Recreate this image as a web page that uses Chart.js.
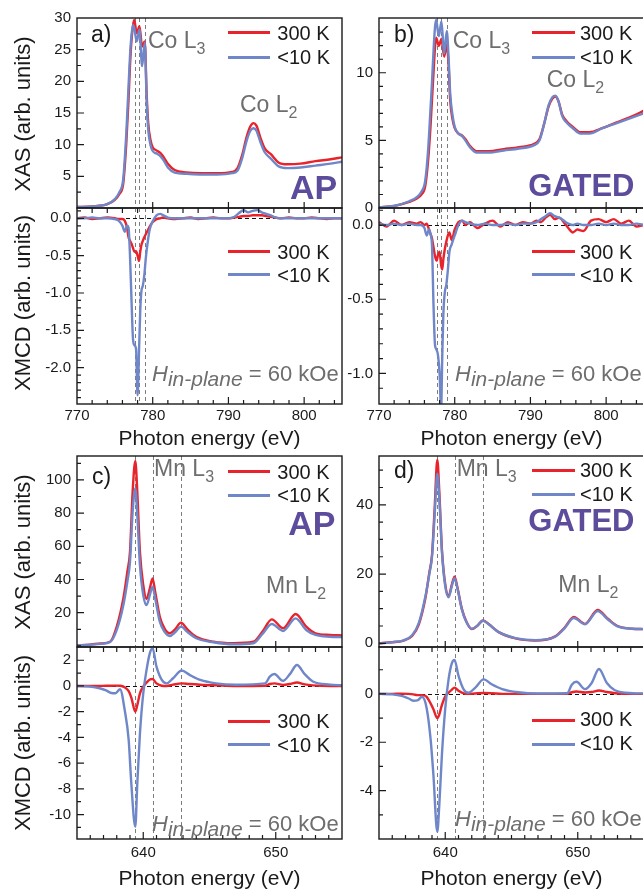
<!DOCTYPE html>
<html>
<head>
<meta charset="utf-8">
<title>Co / Mn XAS and XMCD</title>
<script src="https://cdn.jsdelivr.net/npm/chart.js@4.4.1/dist/chart.umd.min.js"></script>
<style>
  html, body { margin: 0; padding: 0; background: #fff; }
  body { position: relative; width: 643px; height: 891px; overflow: hidden;
         font-family: "Liberation Sans", Arial, sans-serif; color: #1a1a1a; }
  canvas { position: absolute; }
  .t { position: absolute; white-space: nowrap; line-height: 1; }
  .gray { color: #6e6e6e; }
  .tag { color: #5d4b9c; font-weight: bold; }
  .leg { position: absolute; height: 3px; }
  .rot { position: absolute; width: 300px; text-align: center; line-height: 1; transform: rotate(-90deg); white-space: nowrap; }
  .ctr { position: absolute; width: 300px; text-align: center; line-height: 1; white-space: nowrap; }
</style>
</head>
<body>
<script>
// ---- data ----
const seriesNames = ['300 K', '<10 K'];

const coXasEnergy = [770, 772, 774, 775, 775.6, 776.1, 776.5, 776.8, 777.0, 777.2, 777.4, 777.55, 777.9, 778.25, 778.6, 778.95, 779.2, 779.4, 779.7, 780.0, 780.5, 781.0, 781.4, 782.0, 782.9, 784.5, 786.5, 788.5, 790.5, 791.2, 791.8, 792.4, 792.9, 793.3, 793.7, 794.2, 794.8, 795.6, 796.6, 797.8, 799.5, 801.5, 803.5, 805];
const apCoXas300K = [0.15, 0.25, 0.6, 1.3, 2.2, 3.8, 10, 17, 22.5, 26.5, 28.8, 29.7, 27.6, 28.7, 25.5, 26.3, 18, 13.5, 10.8, 9.6, 9.1, 8.7, 8.1, 7.0, 6.0, 5.6, 5.5, 5.5, 5.7, 6.3, 8.3, 11.2, 12.9, 13.4, 13.0, 11.2, 9.4, 8.5, 7.2, 6.9, 7.0, 7.4, 7.7, 8.0];
const apCoXas10K = [0.15, 0.25, 0.6, 1.4, 2.5, 4.5, 11.5, 19, 24, 27.3, 28.9, 28.4, 26.3, 28.2, 22.4, 26.1, 17, 12.5, 10.0, 9.0, 8.6, 8.2, 7.6, 6.4, 5.6, 5.4, 5.3, 5.3, 5.5, 5.9, 7.8, 10.6, 12.2, 12.6, 12.2, 10.5, 8.8, 7.8, 6.6, 6.3, 6.4, 6.7, 7.0, 7.3];
const gatedCoXas300K = [0.05, 0.15, 0.45, 0.7, 1.0, 1.6, 3.6, 6.0, 8.0, 10.0, 11.9, 12.6, 12.0, 12.5, 11.2, 12.1, 10.5, 8.0, 6.6, 5.9, 5.5, 5.35, 5.1, 4.6, 4.2, 4.2, 4.35, 4.5, 4.75, 5.1, 6.2, 7.5, 8.1, 8.25, 7.9, 6.9, 6.4, 6.0, 5.6, 5.6, 5.9, 6.35, 6.8, 7.2];
const gatedCoXas10K = [0.05, 0.15, 0.5, 0.8, 1.2, 2.0, 4.4, 7.3, 9.3, 11.6, 13.4, 13.9, 12.7, 13.8, 11.4, 13.1, 11.0, 8.5, 6.9, 6.0, 5.5, 5.3, 5.0, 4.5, 4.1, 4.1, 4.25, 4.4, 4.65, 5.0, 6.2, 7.6, 8.2, 8.3, 7.9, 6.8, 6.3, 5.9, 5.5, 5.5, 5.9, 6.3, 6.7, 7.0];

const coXmcdEnergy = [770, 771, 772, 773, 774, 775, 775.5, 776.0, 776.3, 776.6, 776.8, 777.0, 777.2, 777.4, 777.6, 777.8, 778.0, 778.2, 778.35, 778.5, 778.7, 778.9, 779.1, 779.3, 779.6, 780.0, 780.5, 781.0, 781.4, 782.0, 783, 784, 785, 786, 787, 788, 789, 790, 790.8, 791.4, 792.0, 792.6, 793.2, 793.8, 794.4, 795.0, 795.6, 796.2, 797, 798, 799, 800, 801, 802, 803, 804, 805];
const apCoXmcd300K = [0.0, 0.01, -0.01, 0.0, 0.01, 0.0, -0.01, -0.01, -0.03, -0.12, -0.25, -0.3, -0.34, -0.4, -0.45, -0.44, -0.5, -0.57, -0.45, -0.36, -0.3, -0.25, -0.21, -0.17, -0.11, -0.05, -0.01, 0.0, 0.01, 0.0, -0.01, 0.0, 0.01, -0.01, 0.0, 0.01, 0.0, 0.0, 0.01, 0.02, 0.03, 0.03, 0.04, 0.04, 0.04, 0.03, 0.02, 0.01, 0.0, 0.01, 0.0, 0.0, 0.01, 0.0, -0.01, 0.0, 0.0];
const apCoXmcd10K = [0.0, 0.0, 0.01, 0.0, 0.0, -0.01, -0.03, -0.1, -0.18, -0.1, -0.12, -0.5, -1.1, -1.62, -1.7, -1.75, -2.37, -1.75, -1.25, -0.98, -0.9, -0.75, -0.52, -0.35, -0.15, -0.04, 0.04, 0.06, 0.04, 0.01, 0.0, 0.0, 0.0, 0.0, 0.0, 0.0, 0.0, 0.0, 0.02, 0.07, 0.11, 0.08, 0.1, 0.11, 0.08, 0.06, 0.04, 0.01, 0.0, 0.0, 0.0, 0.0, 0.0, 0.0, 0.0, 0.0, 0.0];
const gatedCoXmcd300K = [0.02, -0.01, 0.03, 0.0, 0.02, 0.01, 0.02, 0.0, 0.01, -0.03, -0.06, -0.09, -0.15, -0.21, -0.24, -0.2, -0.18, -0.27, -0.3, -0.23, -0.16, -0.11, -0.07, -0.05, -0.1, -0.03, 0.02, 0.03, 0.0, 0.02, -0.02, 0.01, 0.03, -0.01, 0.02, 0.0, 0.02, 0.01, 0.03, 0.02, 0.05, 0.07, 0.04, 0.05, 0.02, -0.02, -0.05, -0.03, -0.04, 0.03, 0.04, 0.02, 0.04, 0.01, 0.03, -0.01, 0.0];
const gatedCoXmcd10K = [0.01, 0.0, 0.01, 0.0, 0.01, 0.0, 0.0, -0.02, -0.07, -0.03, -0.06, -0.14, -0.54, -0.81, -0.84, -0.88, -1.0, -1.25, -0.9, -0.6, -0.45, -0.4, -0.3, -0.18, -0.13, -0.07, 0.0, 0.03, 0.02, 0.01, 0.0, 0.01, 0.0, 0.0, 0.01, 0.0, 0.01, 0.01, 0.02, 0.04, 0.06, 0.08, 0.06, 0.05, 0.03, 0.01, 0.0, 0.01, 0.0, 0.0, 0.01, 0.0, 0.01, 0.0, 0.0, 0.01, 0.0];

const mnXasEnergy = [635, 636, 636.8, 637.5, 638.0, 638.5, 638.8, 639.0, 639.2, 639.4, 639.55, 639.75, 640.0, 640.25, 640.5, 640.7, 640.9, 641.25, 641.6, 642.0, 642.4, 642.85, 643.3, 644.0, 645.3, 646.8, 648.3, 649.0, 649.7, 650.55, 651.5, 652.3, 653.0, 654.1, 655];
const apMnXas300K = [0.3, 0.8, 1.5, 2.5, 11.6, 28.7, 44.7, 56.7, 92.9, 111.4, 92.9, 56.7, 36.7, 28.3, 34.7, 40.7, 32.7, 17.6, 10.6, 7.6, 10, 14, 10.2, 5.5, 2.5, 1.6, 2.5, 8.6, 16, 10.6, 19.2, 11.6, 7.6, 6.6, 6.3];
const apMnXas10K = [0.3, 0.7, 1.2, 2.3, 9.6, 24.6, 38.7, 50.7, 80.8, 94.9, 78.9, 48.7, 30.7, 24.6, 30.7, 35.7, 28.7, 14.6, 8.6, 6.0, 8.2, 11.6, 8.6, 4.6, 2.2, 1.0, 1.6, 7.2, 13.2, 9.0, 16.6, 9.6, 6.6, 5.5, 5.3];
const gatedMnXas300K = [0.0, 0.3, 0.7, 2.1, 5.4, 13, 20.5, 25.5, 39, 53, 44, 27, 17, 13.6, 17, 19.2, 16.5, 10, 6.2, 4.1, 5.0, 6.6, 5.5, 3.3, 1.4, 0.8, 2.0, 4.5, 7.6, 5.6, 9.6, 7.0, 5.0, 4.2, 4.1];
const gatedMnXas10K = [0.0, 0.35, 0.8, 2.3, 5.8, 13.5, 20, 25, 37, 49, 42, 26.5, 16.5, 13.3, 16.6, 18.8, 16.2, 9.8, 6.1, 4.2, 5.0, 6.5, 5.4, 3.3, 1.5, 0.9, 1.9, 4.3, 7.3, 5.5, 9.3, 6.8, 4.9, 4.2, 4.1];

const mnXmcdEnergy = [635, 636, 636.7, 637.2, 637.6, 637.9, 638.25, 638.6, 638.9, 639.1, 639.4, 639.55, 639.75, 640.0, 640.25, 640.5, 640.7, 641.0, 641.4, 641.75, 642.25, 642.9, 643.5, 644.3, 645.5, 647.0, 649.2, 649.55, 649.9, 650.55, 651.05, 651.6, 652.2, 652.8, 654.1, 655];
const apMnXmcd300K = [0, 0, 0, 0.02, 0.02, 0.03, 0.02, -0.1, -0.4, -0.9, -2.0, -1.5, -0.57, -0.05, 0.26, 0.5, 0.54, 0.2, 0.02, 0.0, 0.1, 0.2, 0.15, 0.1, 0.05, 0.0, 0.02, 0.15, 0.2, 0.08, 0.15, 0.27, 0.12, 0.05, 0.0, 0.0];
const apMnXmcd10K = [0, -0.05, -0.18, -0.35, -0.55, -0.57, -0.26, -1.87, -4.2, -7.6, -10.95, -7.6, -3.7, -0.57, 1.25, 2.55, 2.95, 1.5, 0.47, 0.2, 0.6, 1.2, 0.86, 0.47, 0.2, 0.1, 0.2, 0.73, 0.93, 0.4, 0.9, 1.63, 0.9, 0.35, 0.1, 0.05];
const gatedMnXmcd300K = [0, 0, 0.01, 0, -0.02, -0.05, -0.05, -0.12, -0.4, -0.62, -1.0, -0.85, -0.45, -0.1, 0.05, 0.18, 0.26, 0.13, 0.02, 0.0, 0.02, 0.04, 0.03, 0, 0, 0, 0, 0.07, 0.1, 0.06, 0.08, 0.14, 0.08, 0.03, 0, 0];
const gatedMnXmcd10K = [0, -0.02, -0.08, -0.18, -0.28, -0.27, -0.12, -0.6, -1.9, -3.3, -5.7, -4.6, -2.5, -0.6, 0.6, 1.27, 1.4, 0.75, 0.18, 0.05, 0.25, 0.6, 0.4, 0.2, 0.07, 0.02, 0.03, 0.38, 0.5, 0.2, 0.45, 1.03, 0.45, 0.15, 0.03, 0.02];

// tick labels
const coEnergyTicks = [770, 780, 790, 800];
const mnEnergyTicks = [640, 650];
const apCoXasTicks = [5, 10, 15, 20, 25, 30];
const gatedCoXasTicks = [0, 5, 10];
const apCoXmcdTicks = [0, -0.5, -1, -1.5, -2];
const gatedCoXmcdTicks = [0, -0.5, -1];
const apMnXasTicks = [20, 40, 60, 80, 100];
const gatedMnXasTicks = [0, 20, 40];
const apMnXmcdTicks = [2, 0, -2, -4, -6, -8, -10];
const gatedMnXmcdTicks = [0, -2, -4];

// dashed reference energies
const coEdgeMarks = [777.65, 778.2, 779.0];
const mnEdgeMarks = [639.4, 640.7, 642.85];

// ---- drawing ----
const RED = '#e8232b';
const BLUE = '#6f87c9';
const INK = '#1a1a1a';
const tickFont = { family: '"Liberation Sans", Arial, sans-serif', size: 15 };

const pts = (xs, ys) => xs.map((x, i) => ({ x: x, y: ys[i] }));

function steps(min, max, step) {
  const out = [];
  for (let k = Math.ceil(min / step - 1e-9); k * step <= max + 1e-9; k++) out.push(k * step);
  return out;
}
const isMajor = (v, majors, step) => majors.some(m => Math.abs(m - v) < step / 10);

function deco(o) {
  return {
    id: 'deco',
    beforeDatasetsDraw(chart) {
      const { ctx, chartArea: a, scales: { x, y } } = chart;
      ctx.save();
      ctx.lineWidth = 1;
      ctx.setLineDash([4, 3]);
      ctx.strokeStyle = '#7d7d7d';
      o.marks.forEach(e => {
        const px = Math.round(x.getPixelForValue(e)) + 0.5;
        ctx.beginPath(); ctx.moveTo(px, a.top); ctx.lineTo(px, a.bottom); ctx.stroke();
      });
      if (o.mcd) {
        ctx.strokeStyle = '#111';
        const py = Math.round(y.getPixelForValue(0)) + 0.5;
        ctx.beginPath(); ctx.moveTo(a.left, py); ctx.lineTo(a.right, py); ctx.stroke();
      }
      ctx.restore();
    },
    afterDraw(chart) {
      const { ctx, chartArea: a, scales: { x, y } } = chart;
      ctx.save();
      ctx.strokeStyle = INK;
      ctx.lineWidth = 1.4;
      ctx.strokeRect(a.left, a.top, a.right - a.left, a.bottom - a.top);
      ctx.lineWidth = 1.2;
      ctx.beginPath();
      steps(o.yMin, o.yMax, o.yStep).forEach(v => {
        const py = y.getPixelForValue(v);
        if (py < a.top + 1 || py > a.bottom - 1) return;
        const len = isMajor(v, o.yTicks, o.yStep) ? 7 : 4;
        ctx.moveTo(a.left, py); ctx.lineTo(a.left + len, py);
      });
      steps(o.xMin, o.xMax, o.xStep).forEach(v => {
        const px = x.getPixelForValue(v);
        if (px < a.left + 1 || px > a.right - 1) return;
        const major = isMajor(v, o.xTicks, o.xStep);
        if (o.mcd) {
          ctx.moveTo(px, a.top); ctx.lineTo(px, a.top + 5);
          ctx.moveTo(px, a.bottom); ctx.lineTo(px, a.bottom - (major ? 7 : 4));
        } else if (major) {
          ctx.moveTo(px, a.bottom); ctx.lineTo(px, a.bottom - 6);
        }
      });
      ctx.stroke();
      ctx.restore();
    }
  };
}

function makePanel(o) {
  const padTop = 20, padSide = 20, yW = 60;
  const xH = o.mcd ? 30 : 0, padBot = o.mcd ? 0 : 20;
  const w = (o.R - o.L) + yW + padSide, h = (o.B - o.T) + padTop + padBot + xH;
  const c = document.createElement('canvas');
  c.width = w; c.height = h;
  c.style.left = (o.L - yW) + 'px';
  c.style.top = (o.T - padTop) + 'px';
  document.body.appendChild(c);

  new Chart(c, {
    type: 'line',
    data: {
      datasets: [
        { label: seriesNames[1], data: pts(o.e, o.cold), borderColor: BLUE, borderWidth: 2.4, clip: 0 },
        { label: seriesNames[0], data: pts(o.e, o.warm), borderColor: RED, borderWidth: 2.4, clip: 0 }
      ]
    },
    options: {
      responsive: false,
      animation: false,
      events: [],
      layout: { padding: { top: padTop, right: padSide, bottom: padBot, left: 0 } },
      elements: { point: { radius: 0 }, line: { cubicInterpolationMode: 'monotone', fill: false } },
      plugins: { legend: { display: false }, tooltip: { enabled: false } },
      scales: {
        x: {
          type: 'linear', min: o.xMin, max: o.xMax, display: o.mcd,
          grid: { display: false, drawTicks: false }, border: { display: false },
          ticks: { padding: o.xPad, font: tickFont, color: INK, autoSkip: false, maxRotation: 0, callback: v => String(v) },
          afterBuildTicks: s => { s.ticks = o.xTicks.map(v => ({ value: v })); },
          afterFit: s => { s.height = xH; }
        },
        y: {
          type: 'linear', min: o.yMin, max: o.yMax,
          grid: { display: false, drawTicks: false }, border: { display: false },
          ticks: { padding: 6, font: tickFont, color: INK, autoSkip: false, callback: o.fmt },
          afterBuildTicks: s => { s.ticks = o.yTicks.map(v => ({ value: v })); },
          afterFit: s => { s.width = yW; }
        }
      }
    },
    plugins: [deco(o)]
  });
}

const oneDec = v => v.toFixed(1);
const plain = v => String(v);
const LEFT = { L: 77, R: 342 }, RIGHT = { L: 379, R: 644 };
const coX = { xMin: 770, xMax: 805, xTicks: coEnergyTicks, xStep: 2, marks: coEdgeMarks, xPad: 3 };
const mnX = { xMin: 635, xMax: 655, xTicks: mnEnergyTicks, xStep: 1, marks: mnEdgeMarks, xPad: 5 };

// a) Co, AP
makePanel(Object.assign({}, LEFT, coX, { T: 18, B: 208, mcd: false, e: coXasEnergy, warm: apCoXas300K, cold: apCoXas10K,
  yMin: 0, yMax: 30, yTicks: apCoXasTicks, yStep: 2.5, fmt: plain }));
makePanel(Object.assign({}, LEFT, coX, { T: 208, B: 404, mcd: true, e: coXmcdEnergy, warm: apCoXmcd300K, cold: apCoXmcd10K,
  yMin: -2.486, yMax: 0.138, yTicks: apCoXmcdTicks, yStep: 0.1, fmt: oneDec }));
// b) Co, GATED
makePanel(Object.assign({}, RIGHT, coX, { T: 18, B: 208, mcd: false, e: coXasEnergy, warm: gatedCoXas300K, cold: gatedCoXas10K,
  yMin: 0, yMax: 14.05, yTicks: gatedCoXasTicks, yStep: 1, fmt: plain }));
makePanel(Object.assign({}, RIGHT, coX, { T: 208, B: 404, mcd: true, e: coXmcdEnergy, warm: gatedCoXmcd300K, cold: gatedCoXmcd10K,
  yMin: -1.206, yMax: 0.115, yTicks: gatedCoXmcdTicks, yStep: 0.1, fmt: oneDec }));
// c) Mn, AP
makePanel(Object.assign({}, LEFT, mnX, { T: 456, B: 647, mcd: false, e: mnXasEnergy, warm: apMnXas300K, cold: apMnXas10K,
  yMin: -0.66, yMax: 114.4, yTicks: apMnXasTicks, yStep: 10, fmt: plain }));
makePanel(Object.assign({}, LEFT, mnX, { T: 647, B: 839, mcd: true, e: mnXmcdEnergy, warm: apMnXmcd300K, cold: apMnXmcd10K,
  yMin: -11.9, yMax: 3.03, yTicks: apMnXmcdTicks, yStep: 1, fmt: plain }));
// d) Mn, GATED
makePanel(Object.assign({}, RIGHT, mnX, { T: 456, B: 647, mcd: false, e: mnXasEnergy, warm: gatedMnXas300K, cold: gatedMnXas10K,
  yMin: -1.07, yMax: 54.1, yTicks: gatedMnXasTicks, yStep: 5, fmt: plain }));
makePanel(Object.assign({}, RIGHT, mnX, { T: 647, B: 839, mcd: true, e: mnXmcdEnergy, warm: gatedMnXmcd300K, cold: gatedMnXmcd10K,
  yMin: -6.0, yMax: 1.94, yTicks: gatedMnXmcdTicks, yStep: 1, fmt: plain }));

// ---- text annotations ----
function txt(html, x, base, size, cls) {
  const d = document.createElement('div');
  d.className = 't ' + (cls || '');
  d.style.left = x + 'px';
  d.style.top = (base - 0.8465 * size) + 'px';
  d.style.fontSize = size + 'px';
  d.innerHTML = html;
  document.body.appendChild(d);
}
function rot(text, cx, cy, size) {
  const d = document.createElement('div');
  d.className = 'rot';
  d.style.left = (cx - 150) + 'px';
  d.style.top = (cy - size / 2) + 'px';
  d.style.fontSize = size + 'px';
  d.textContent = text;
  document.body.appendChild(d);
}
function centered(text, cx, base, size) {
  const d = document.createElement('div');
  d.className = 'ctr';
  d.style.left = (cx - 150) + 'px';
  d.style.top = (base - 0.8465 * size) + 'px';
  d.style.fontSize = size + 'px';
  d.textContent = text;
  document.body.appendChild(d);
}
function legend(x1, x2, yRed, yBlue, tx, bRed, bBlue) {
  [[yRed, RED], [yBlue, BLUE]].forEach(([y, col]) => {
    const d = document.createElement('div');
    d.className = 'leg';
    d.style.left = x1 + 'px'; d.style.width = (x2 - x1) + 'px';
    d.style.top = (y - 1.5) + 'px'; d.style.background = col;
    document.body.appendChild(d);
  });
  txt(seriesNames[0], tx, bRed, 20);
  txt(seriesNames[1].replace('<', '&lt;'), tx, bBlue, 20);
}
const sub = (s, size, dy) => '<span style="font-size:' + size + 'px;position:relative;top:' + dy + 'px">' + s + '</span>';
const field = '<i>H</i>' + sub('<i>in-plane</i>', 21, 5) + ' = 60 kOe';

// panel letters
txt('a)', 91, 42.7, 23);
txt('b)', 394, 42.7, 23);
txt('c)', 92, 484, 23);
txt('d)', 394, 478, 23);

// edge labels
txt('Co L' + sub('3', 16, 6), 148, 48.3, 23, 'gray');
txt('Co L' + sub('2', 16, 6), 240, 112.3, 23, 'gray');
txt('Co L' + sub('3', 16, 6), 452.7, 48.3, 23, 'gray');
txt('Co L' + sub('2', 16, 6), 546.7, 87.3, 23, 'gray');
txt('Mn L' + sub('3', 16, 6), 154, 476.7, 23, 'gray');
txt('Mn L' + sub('2', 16, 6), 266, 593.3, 23, 'gray');
txt('Mn L' + sub('3', 16, 6), 456.7, 476.7, 23, 'gray');
txt('Mn L' + sub('2', 16, 6), 558.3, 592.7, 23, 'gray');

// sample tags
txt('AP', 290, 198.3, 34, 'tag');
txt('GATED', 528.3, 196.7, 31, 'tag');
txt('AP', 288.3, 535, 34, 'tag');
txt('GATED', 528.3, 531.7, 31, 'tag');

// legends
legend(228, 270, 32.3, 57.3, 277.3, 40, 64);
legend(531.7, 575, 32.3, 57.3, 580, 40, 64);
legend(228, 270, 251.7, 274.3, 277.3, 259, 282.3);
legend(531.7, 575, 251.7, 274.3, 580, 259, 282.3);
legend(228, 270, 471.7, 495, 277.3, 479, 502.3);
legend(531.7, 575, 470, 494, 580, 477.3, 501);
legend(228, 270, 721, 744.3, 277.3, 728.3, 751.7);
legend(531.7, 575, 720, 744, 580, 726, 750);

// field annotation
txt(field, 152, 381.7, 22, 'gray');
txt(field, 455, 381.7, 22, 'gray');
txt(field, 152, 831.7, 22, 'gray');
txt(field, 455, 826.7, 22, 'gray');

// axis titles
rot('XAS (arb. units)', 23, 114, 22);
rot('XMCD (arb. units)', 23, 303, 22);
rot('XAS (arb. units)', 23, 551.5, 22);
rot('XMCD (arb. units)', 23, 743, 22);
centered('Photon energy (eV)', 209.5, 445, 21);
centered('Photon energy (eV)', 511.5, 445, 21);
centered('Photon energy (eV)', 209.5, 885, 21);
centered('Photon energy (eV)', 511.5, 885, 21);
</script>
</body>
</html>
